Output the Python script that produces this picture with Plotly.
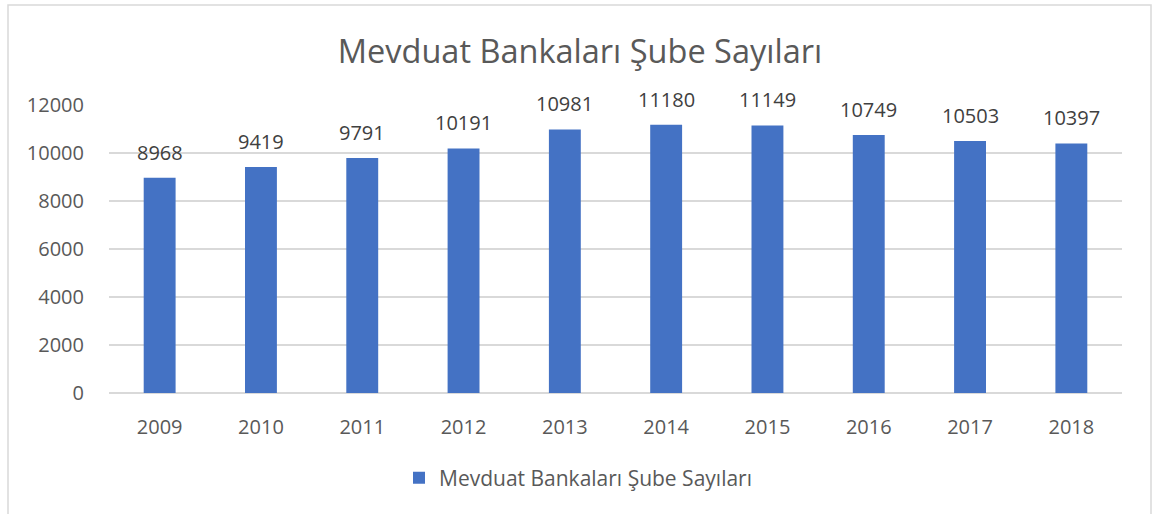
import plotly.graph_objects as go

years = ["2009", "2010", "2011", "2012", "2013", "2014", "2015", "2016", "2017", "2018"]
branches = [8968, 9419, 9791, 10191, 10981, 11180, 11149, 10749, 10503, 10397]
series_name = "Mevduat Bankaları Şube Sayıları"
title_text = "Mevduat Bankaları Şube Sayıları"
y_ticks = [0, 2000, 4000, 6000, 8000, 10000, 12000]

FONT = "Open Sans"
TXT = "#595959"
GRID = "#d9d9d9"

fig = go.Figure()
fig.add_trace(go.Bar(
    x=years, y=branches, name=series_name,
    marker=dict(color="#4472C4", line=dict(width=0)),
    showlegend=True,
))

for i, yv in enumerate(branches):
    fig.add_annotation(x=i, y=yv, text=str(yv), showarrow=False,
                       yanchor="bottom", yshift=10,
                       font=dict(family=FONT, size=20, color="#404040"))

W, H = 1161, 514
L, R, T, B = 109, 1161 - 1122, 105, 514 - 393
pw, ph = W - L - R, H - T - B

def px_x(p):
    return (p - L) / pw

def px_y(p):
    return (H - B - p) / ph

fig.add_shape(type="rect", xref="paper", yref="paper",
              x0=px_x(8), x1=px_x(1151), y0=px_y(530), y1=px_y(5),
              line=dict(color=GRID, width=1.5), fillcolor="rgba(0,0,0,0)", layer="below")

fig.update_layout(
    width=W, height=H,
    margin=dict(l=L, r=R, t=T, b=B, autoexpand=False),
    paper_bgcolor="white", plot_bgcolor="white",
    bargap=0.685,
    title=dict(text=title_text, x=580 / W, xanchor="center", xref="container",
               y=1 - 52 / H, yanchor="middle", yref="container",
               font=dict(family=FONT, size=32.5, color=TXT)),
    font=dict(family=FONT, color=TXT, size=20),
    legend=dict(orientation="h", x=px_x(578), xanchor="center", y=px_y(478), yanchor="middle",
                font=dict(family=FONT, size=21, color=TXT), itemwidth=30,
                bgcolor="rgba(0,0,0,0)"),
    xaxis=dict(type="category", range=[-0.5, len(years) - 0.5],
               showgrid=False, showline=False, zeroline=False,
               ticks="outside", ticklen=16, tickcolor="rgba(0,0,0,0)",
               tickfont=dict(family=FONT, size=20, color=TXT)),
    yaxis=dict(range=[0, 12000], tickvals=y_ticks, tickformat="d",
               showgrid=True, gridcolor=GRID, gridwidth=1.5,
               zeroline=True, zerolinecolor=GRID, zerolinewidth=1.5, showline=False,
               ticks="outside", ticklen=20, tickcolor="rgba(0,0,0,0)",
               tickfont=dict(family=FONT, size=20, color=TXT)),
)

fig.write_html("out.html", config={"displayModeBar": False},
               post_script="document.body.style.margin='0';document.body.style.overflow='hidden';")
